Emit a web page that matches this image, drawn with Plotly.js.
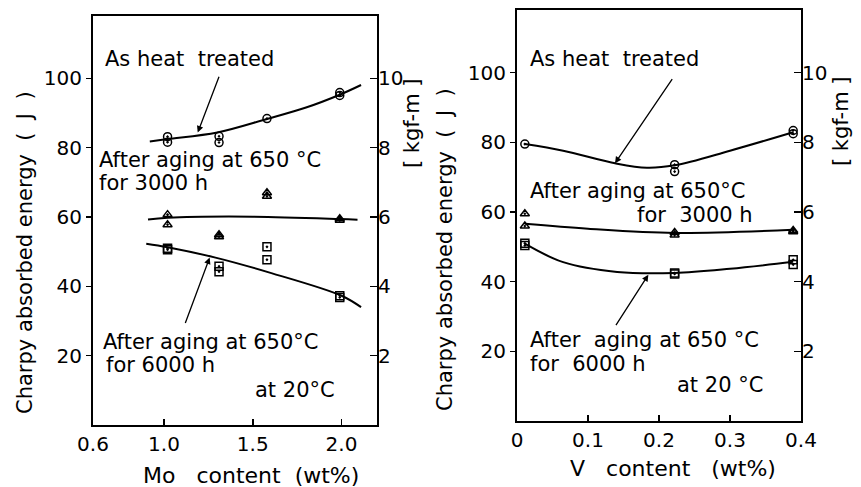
<!DOCTYPE html>
<html>
<head>
<meta charset="utf-8">
<script src="https://cdn.plot.ly/plotly-3.0.1.min.js"></script>
<style>html,body{margin:0;padding:0;background:#fff;}#chart{width:861px;height:487px;}</style>
</head>
<body>
<div id="chart"></div>
<script>
// ---- Left panel: Mo content ----
const moHeatX = [1.02, 1.02, 1.31, 1.31, 1.58, 1.99, 1.99];
const moHeatY = [83.2, 81.6, 83.3, 81.5, 88.4, 95.9, 95.1];
const moAge3X = [1.02, 1.02, 1.31, 1.31, 1.58, 1.58, 1.99, 1.99];
const moAge3Y = [60.7, 57.8, 54.9, 54.3, 67.0, 66.0, 59.5, 59.1];
const moAge6X = [1.02, 1.02, 1.31, 1.31, 1.58, 1.58, 1.99, 1.99];
const moAge6Y = [51.0, 50.6, 45.8, 44.2, 51.4, 47.7, 37.3, 36.8];
const moHeatCurveX = [0.92, 1.02, 1.30, 1.58, 1.80, 1.99, 2.11];
const moHeatCurveY = [81.8, 82.5, 84.4, 88.3, 91.6, 95.3, 98.1];
const moAge3CurveX = [0.91, 1.02, 1.50, 1.99, 2.09];
const moAge3CurveY = [59.3, 59.8, 60.1, 59.4, 59.2];
const moAge6CurveX = [0.90, 1.02, 1.29, 1.60, 2.00, 2.11];
const moAge6CurveY = [52.3, 51.3, 48.3, 43.9, 37.3, 34.0];
const moTickVals = [0.6, 1.0, 1.5, 2.0];
const moTickText = ["0.6", "1.0", "1.5", "2.0"];

// ---- Right panel: V content ----
const vHeatX = [0.011, 0.222, 0.222, 0.389, 0.389];
const vHeatY = [79.5, 73.6, 71.6, 83.4, 82.5];
const vAge3X = [0.011, 0.011, 0.222, 0.222, 0.389, 0.389];
const vAge3Y = [59.5, 56.0, 54.1, 53.4, 54.7, 54.3];
const vAge6X = [0.011, 0.011, 0.222, 0.222, 0.389, 0.389];
const vAge6Y = [51.0, 50.4, 42.5, 42.2, 46.3, 44.9];
const vHeatCurveX = [0.011, 0.065, 0.138, 0.183, 0.222, 0.300, 0.389];
const vHeatCurveY = [79.5, 77.6, 74.0, 72.7, 73.4, 77.6, 82.9];
const vAge3CurveX = [0.011, 0.100, 0.222, 0.389];
const vAge3CurveY = [56.6, 55.2, 54.0, 54.9];
const vAge6CurveX = [0.011, 0.065, 0.141, 0.222, 0.300, 0.389];
const vAge6CurveY = [50.9, 45.6, 42.8, 42.5, 43.7, 45.7];
const vTickVals = [0, 0.1, 0.2, 0.3, 0.4];
const vTickText = ["0", "0.1", "0.2", "0.3", "0.4"];

const jTickVals = [20, 40, 60, 80, 100];
const kgfTickVals = [2, 4, 6, 8, 10];

const FONT = "DejaVu Sans, sans-serif";
const K = "#000";

function markers(x, y, sym, xa, ya) {
  return {x, y, xaxis: xa, yaxis: ya, type: "scatter", mode: "markers", hoverinfo: "skip",
    marker: {symbol: sym, size: 8, color: K, line: {color: K, width: 1.5}}, showlegend: false};
}
function curve(x, y, xa, ya) {
  return {x, y, xaxis: xa, yaxis: ya, type: "scatter", mode: "lines", hoverinfo: "skip",
    line: {color: K, width: 2, shape: "spline", smoothing: 1}, showlegend: false};
}

const data = [
  curve(moHeatCurveX, moHeatCurveY, "x", "y"),
  curve(moAge3CurveX, moAge3CurveY, "x", "y"),
  curve(moAge6CurveX, moAge6CurveY, "x", "y"),
  markers(moHeatX, moHeatY, "circle-open-dot", "x", "y"),
  markers(moAge3X, moAge3Y, "triangle-up-open-dot", "x", "y"),
  markers(moAge6X, moAge6Y, "square-open-dot", "x", "y"),
  curve(vHeatCurveX, vHeatCurveY, "x2", "y3"),
  curve(vAge3CurveX, vAge3CurveY, "x2", "y3"),
  curve(vAge6CurveX, vAge6CurveY, "x2", "y3"),
  markers(vHeatX, vHeatY, "circle-open-dot", "x2", "y3"),
  markers(vAge3X, vAge3Y, "triangle-up-open-dot", "x2", "y3"),
  markers(vAge6X, vAge6Y, "square-open-dot", "x2", "y3"),
  // invisible traces to activate the kgf-m axes
  {x: [1], y: [5], xaxis: "x", yaxis: "y2", mode: "markers", marker: {opacity: 0}, showlegend: false, hoverinfo: "skip"},
  {x: [0.2], y: [5], xaxis: "x2", yaxis: "y4", mode: "markers", marker: {opacity: 0}, showlegend: false, hoverinfo: "skip"}
];

const tickFont = {family: FONT, size: 20, color: K};
function xax(domain, range, vals, text, anchor) {
  return {domain, range, tickvals: vals, ticktext: text, ticks: "inside", ticklen: 6, tickwidth: 1.5,
    tickcolor: K, showline: true, linecolor: K, linewidth: 2, mirror: true, showgrid: false,
    zeroline: false, tickfont: tickFont, anchor, fixedrange: true};
}
function jax(domain, anchor) {
  return {domain, range: [0, 118], tickvals: jTickVals, ticks: "outside", ticklen: 5, tickwidth: 1.5,
    tickcolor: K, showline: true, linecolor: K, linewidth: 2, mirror: true, showgrid: false,
    zeroline: false, tickfont: tickFont, anchor, fixedrange: true};
}
function kax(overlay, anchor) {
  return {overlaying: overlay, side: "right", anchor, range: [0, 11.8], tickvals: kgfTickVals,
    ticks: "inside", ticklen: 7, tickwidth: 1.5, tickcolor: K, showline: false, showgrid: false,
    zeroline: false, tickfont: tickFont, fixedrange: true};
}

const txt = (x, y, text, xref, yref, extra) => Object.assign({x, y, xref, yref, text, showarrow: false,
  xanchor: "left", yanchor: "middle", font: {family: FONT, size: 21, color: K}}, extra || {});
const arrow = (x, y, ax, ay, xref, yref) => ({x, y, ax, ay, xref, yref, axref: xref, ayref: yref,
  text: "", showarrow: true, arrowhead: 2, arrowsize: 1, arrowwidth: 1.3, arrowcolor: K, standoff: 0});
const title = (x, y, text, angle, size) => ({x, y, xref: "paper", yref: "paper", text, showarrow: false,
  xanchor: "center", yanchor: "middle", textangle: angle, font: {family: FONT, size: size, color: K}});

const annotations = [
  txt(0.655, 105.5, "As heat  treated", "x", "y"),
  txt(0.62, 76.4, "After aging at 650 °C", "x", "y"),
  txt(0.62, 69.8, "for 3000 h", "x", "y"),
  txt(0.645, 23.9, "After aging at 650°C", "x", "y"),
  txt(0.66, 17.3, "for 6000 h", "x", "y"),
  txt(1.50, 10.2, "at 20°C", "x", "y"),
  arrow(1.19, 84.4, 1.313, 100.9, "x", "y"),
  arrow(1.257, 48.3, 1.117, 29.0, "x", "y"),

  txt(0.0155, 104, "As heat  treated", "x2", "y3"),
  txt(0.0155, 65.9, "After aging at 650°C", "x2", "y3"),
  txt(0.166, 59.0, "for  3000 h", "x2", "y3"),
  txt(0.0155, 23.4, "After  aging at 650 °C", "x2", "y3"),
  txt(0.0155, 16.4, "for  6000 h", "x2", "y3"),
  txt(0.2225, 10.3, "at 20 °C", "x2", "y3"),
  arrow(0.138, 74.0, 0.22, 98.6, "x2", "y3"),
  arrow(0.185, 42.0, 0.138, 27.1, "x2", "y3"),

  title(0.029, 0.4825, "Charpy absorbed energy  (  J  )", -90, 21),
  title(0.4785, 0.7474, "[ kgf-m ]", -90, 21),
  title(0.5168, 0.4887, "Charpy absorbed energy  (  J  )", -90, 21),
  title(0.9768, 0.7515, "[ kgf-m ]", -90, 21),
  title(0.2921, 0.0246, "Mo   content  (wt%)", 0, 22),
  title(0.7811, 0.039, "V   content   (wt%)", 0, 22)
];

const layout = {
  width: 861, height: 487,
  margin: {l: 0, r: 0, t: 0, b: 0},
  paper_bgcolor: "#fff", plot_bgcolor: "rgba(0,0,0,0)",
  showlegend: false,
  xaxis: xax([0.108, 0.4379], [0.6, 2.2], moTickVals, moTickText, "y"),
  yaxis: jax([0.1273, 0.9671], "x"),
  yaxis2: kax("y", "x"),
  xaxis2: xax([0.6005, 0.9303], [0, 0.4], vTickVals, vTickText, "y3"),
  yaxis3: jax([0.1355, 0.9795], "x2"),
  yaxis4: kax("y3", "x2"),
  annotations
};

Plotly.newPlot("chart", data, layout, {displayModeBar: false, staticPlot: true});
</script>
</body>
</html>
